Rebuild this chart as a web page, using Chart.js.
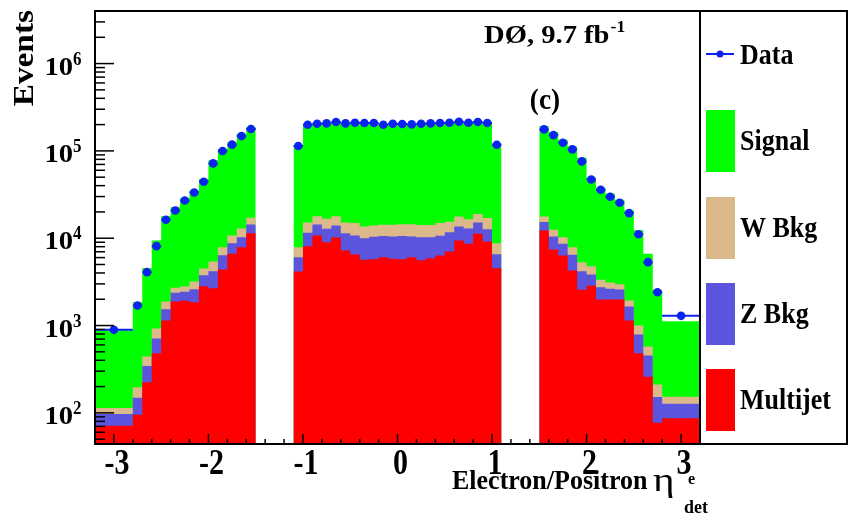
<!DOCTYPE html>
<html>
<head>
<meta charset="utf-8">
<script src="https://cdn.jsdelivr.net/npm/chart.js@4.4.1/dist/chart.umd.min.js"></script>
<style>
  html, body { margin: 0; background: #fff; }
</style>
</head>
<body>
<canvas id="chart" width="848" height="515"></canvas>
<script>
// bin edges of the three detector regions (gaps at 1.1 < |eta| < 1.5)
const edgesLeft = [-3.2, -2.8, -2.7, -2.6, -2.5, -2.4, -2.3, -2.2, -2.1, -2.0, -1.9, -1.8, -1.7, -1.6, -1.5];
const edgesMid = [-1.1, -1.0, -0.9, -0.8, -0.7, -0.6, -0.5, -0.4, -0.3, -0.2, -0.1, 0.0,
  0.1, 0.2, 0.3, 0.4, 0.5, 0.6, 0.7, 0.8, 0.9, 1.0, 1.1];
const edgesRight = [1.5, 1.6, 1.7, 1.8, 1.9, 2.0, 2.1, 2.2, 2.3, 2.4, 2.5, 2.6, 2.7, 2.8, 3.2];

// events per bin, left / central / right regions in order
const dataCounts = [
  893, 1695, 4085, 8110, 16260, 20780, 27080, 33440, 44340, 71900, 99600, 117900, 147800, 177900,
  113600, 199500, 204800, 206600, 214000, 206600, 210300, 208400, 208400, 199500, 204800,
  203000, 201200, 204800, 206600, 208400, 210300, 216000, 210300, 214000, 208400, 117700,
  176200, 151600, 124100, 104000, 75800, 47100, 35900, 29800, 25500, 19400, 11100, 5320, 2410, 1292
];
const signal = [
  763, 1654, 4098, 8496, 16015, 19996, 25970, 32047, 43032, 72380, 97110, 115230, 144050, 169860,
  105710, 184320, 186900, 189900, 196100, 191420, 195400, 194750, 194400, 185240, 190540,
  188510, 186710, 190670, 192470, 193500, 194860, 198250, 193770, 195100, 191400, 108930,
  173250, 151990, 124020, 104710, 78280, 44410, 34460, 29188, 24626, 18865, 11300, 6046, 2349, 967
];
const wBkg = [
  17, 47, 97, 214, 347, 334, 370, 587, 725, 1230, 1490, 2000, 2670, 2750,
  1820, 3640, 3510, 3870, 3900, 3750, 4130, 3630, 3600, 3690, 3790,
  3920, 4020, 3850, 3850, 4230, 3720, 4100, 3590, 3720, 4300, 2210,
  2460, 2040, 1650, 1430, 1130, 947, 590, 479, 386, 284, 211, 121, 59, 26
];
const zBkg = [
  26, 54, 121, 228, 397, 485, 512, 757, 954, 1517, 2015, 2130, 2390, 2960,
  1910, 3430, 3620, 3810, 3800, 4190, 4250, 4360, 4650, 4500, 4660,
  4820, 4400, 4670, 4380, 4330, 4670, 4230, 4310, 3930, 3510, 2020,
  3020, 3040, 2290, 2190, 1625, 993, 764, 647, 602, 510, 307, 193, 75, 40
];
const multijet = [
  71, 95, 224, 482, 1141, 1885, 1918, 1849, 2819, 2673, 4385, 6640, 7890, 11430,
  4160, 8110, 10770, 9020, 10200, 7240, 6520, 5660, 5750, 6070, 5810,
  5750, 6070, 5610, 5900, 6340, 7050, 9420, 8630, 11250, 9190, 4540,
  12270, 7430, 6340, 4270, 2565, 2850, 1986, 1986, 1986, 1141, 482, 260, 77, 87
];

const xTickLabels = [-3, -2, -1, 0, 1, 2, 3];
const yTickExps = [2, 3, 4, 5, 6];

const regions = [edgesLeft, edgesMid, edgesRight];
const bins = [];
regions.forEach(e => { for (let i = 0; i < e.length - 1; i++) bins.push([e[i], e[i + 1]]); });

// histogram outline as step points, with a null point to break at each gap
function stepPoints(vals) {
  const pts = [];
  let k = 0;
  regions.forEach((e, r) => {
    if (r > 0) pts.push({ x: e[0] - 0.05, y: null });
    for (let i = 0; i < e.length - 1; i++) pts.push({ x: e[i], y: vals[k++] });
    pts.push({ x: e[e.length - 1], y: vals[k - 1] });
  });
  return pts;
}

const cumRed = multijet.slice();
const cumBlue = cumRed.map((v, i) => v + zBkg[i]);
const cumTan = cumBlue.map((v, i) => v + wBkg[i]);
const cumGreen = cumTan.map((v, i) => v + signal[i]);

const GREEN = '#00ff00', TAN = '#dcb98a', BLUE = '#5a55dc', RED = '#ff0000', DOT = '#0a24f0';

function histSet(vals, color) {
  return {
    type: 'line', data: stepPoints(vals), stepped: 'before', spanGaps: false,
    fill: 'start', backgroundColor: color, borderColor: color, borderWidth: 0,
    pointRadius: 0
  };
}

const errBars = [];
bins.forEach((b, i) => {
  errBars.push({ x: b[0], y: dataCounts[i] }, { x: b[1], y: dataCounts[i] }, { x: b[1], y: null });
});

const serif = '"Liberation Serif", "Times New Roman", serif';

// text drawn with a stretch, ROOT fonts look a bit taller than Liberation
function txt(ctx, s, x, y, size, align, sx, sy, weight) {
  ctx.save();
  ctx.translate(x, y);
  ctx.scale(sx || 1, sy || 1);
  ctx.font = (weight || 'bold') + ' ' + size + 'px ' + serif;
  ctx.textAlign = align || 'left';
  ctx.fillText(s, 0, 0);
  const w = ctx.measureText(s).width * (sx || 1);
  ctx.restore();
  return w;
}

const decor = {
  id: 'decor',
  afterDraw(chart) {
    const { ctx, chartArea: a, scales: { x, y } } = chart;
    ctx.save();
    ctx.strokeStyle = '#000';
    ctx.fillStyle = '#000';
    ctx.textBaseline = 'alphabetic';

    // ticks along the bottom
    ctx.lineWidth = 1.5;
    for (let i = -16; i <= 16; i++) {
      const px = x.getPixelForValue(i * 0.2);
      const len = i % 5 === 0 ? 10 : 5;
      ctx.beginPath(); ctx.moveTo(px, a.bottom); ctx.lineTo(px, a.bottom - len); ctx.stroke();
    }
    // ticks along the left (log)
    for (let d = 1; d <= 6; d++) {
      for (let m = 1; m <= 9; m++) {
        const v = m * Math.pow(10, d);
        if (v < y.min || v > y.max) continue;
        const py = y.getPixelForValue(v);
        const len = m === 1 ? 19 : 10;
        ctx.beginPath(); ctx.moveTo(a.left, py); ctx.lineTo(a.left + len, py); ctx.stroke();
      }
    }

    // frame and legend box
    ctx.lineWidth = 2;
    ctx.strokeRect(a.left, a.top, 847 - a.left, a.bottom - a.top);
    ctx.beginPath(); ctx.moveTo(a.right, a.top); ctx.lineTo(a.right, a.bottom); ctx.stroke();

    // x tick labels
    xTickLabels.forEach(v => txt(ctx, String(v), x.getPixelForValue(v) + 3, 474, 30, 'center', 1, 1.18));

    // y tick labels 10^n
    yTickExps.forEach(e => {
      const py = y.getPixelForValue(Math.pow(10, e));
      txt(ctx, '10', 73, py + 11, 26, 'right', 1.1, 1);
      txt(ctx, String(e), 73, py + 1, 17, 'left', 1, 1.05);
    });

    // axis titles
    ctx.save();
    ctx.translate(33, 10);
    ctx.rotate(-Math.PI / 2);
    txt(ctx, 'Events', 0, 0, 29, 'right', 1.15, 1);
    ctx.restore();

    txt(ctx, 'Electron/Positron', 452, 489, 26, 'left', 1, 1.08);
    txt(ctx, 'η', 653, 491, 33, 'left', 1.25, 1.05, 'normal');
    txt(ctx, 'e', 688, 484, 16, 'left', 1, 1.1);
    txt(ctx, 'det', 684, 513, 18, 'left', 1, 1.1);

    // labels inside the plot
    const w = txt(ctx, 'DØ, 9.7 fb', 484, 43, 26, 'left', 1.1, 1);
    txt(ctx, '-1', 484 + w + 1, 32, 16, 'left', 1.1, 1);
    txt(ctx, '(c)', 545, 109, 26, 'center', 1.05, 1.15);

    // legend
    const lx = 706, tx = 740;
    ctx.strokeStyle = DOT; ctx.lineWidth = 2;
    ctx.beginPath(); ctx.moveTo(lx, 54); ctx.lineTo(lx + 28, 54); ctx.stroke();
    ctx.fillStyle = DOT;
    ctx.beginPath(); ctx.arc(lx + 14, 54, 3.5, 0, Math.PI * 2); ctx.fill();
    ctx.fillStyle = '#000';
    txt(ctx, 'Data', tx, 64, 26, 'left', 1, 1.12);
    const items = [['Signal', GREEN, 110], ['W Bkg', TAN, 197], ['Z Bkg', BLUE, 283], ['Multijet', RED, 369]];
    items.forEach(([label, color, top]) => {
      ctx.fillStyle = color;
      ctx.fillRect(lx, top, 29, 62);
      ctx.fillStyle = '#000';
      txt(ctx, label, tx, top + 40, 26, 'left', 1, 1.12);
    });
    ctx.restore();
  }
};

new Chart(document.getElementById('chart'), {
  type: 'line',
  data: {
    datasets: [
      {
        type: 'scatter',
        data: bins.map((b, i) => ({ x: (b[0] + b[1]) / 2, y: dataCounts[i] })),
        pointRadius: 4.3, pointBackgroundColor: DOT, pointBorderWidth: 0, showLine: false
      },
      {
        type: 'line', data: errBars, spanGaps: false, borderColor: DOT, borderWidth: 2,
        pointRadius: 0, fill: false
      },
      histSet(cumRed, RED),
      histSet(cumBlue, BLUE),
      histSet(cumTan, TAN),
      histSet(cumGreen, GREEN)
    ]
  },
  options: {
    responsive: false,
    animation: false,
    devicePixelRatio: 1,
    layout: { padding: { left: 95, right: 148, top: 11, bottom: 71 } },
    plugins: { legend: { display: false }, tooltip: { enabled: false } },
    scales: {
      x: { type: 'linear', min: -3.2, max: 3.2, display: false },
      y: { type: 'logarithmic', min: 44, max: 4e6, display: false }
    }
  },
  plugins: [decor]
});
</script>
</body>
</html>
